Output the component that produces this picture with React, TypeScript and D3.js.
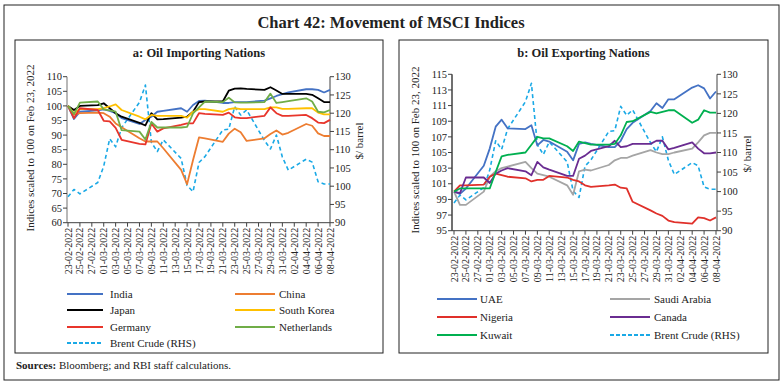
import React from 'react';
import * as d3 from 'd3';

// trading days shown in both panels
const DATES = [
  '23-02-2022', '24-02-2022', '25-02-2022', '28-02-2022', '01-03-2022', '02-03-2022',
  '03-03-2022', '04-03-2022', '07-03-2022', '08-03-2022', '09-03-2022', '10-03-2022',
  '11-03-2022', '14-03-2022', '15-03-2022', '16-03-2022', '17-03-2022', '18-03-2022',
  '21-03-2022', '22-03-2022', '23-03-2022', '24-03-2022', '25-03-2022', '28-03-2022',
  '29-03-2022', '30-03-2022', '31-03-2022', '01-04-2022', '04-04-2022', '05-04-2022',
  '06-04-2022', '07-04-2022', '08-04-2022',
];

// x tick labels (every second calendar day)
const X_TICKS = [
  '23-02-2022', '25-02-2022', '27-02-2022', '01-03-2022', '03-03-2022', '05-03-2022',
  '07-03-2022', '09-03-2022', '11-03-2022', '13-03-2022', '15-03-2022', '17-03-2022',
  '19-03-2022', '21-03-2022', '23-03-2022', '25-03-2022', '27-03-2022', '29-03-2022',
  '31-03-2022', '02-04-2022', '04-04-2022', '06-04-2022', '08-04-2022',
];

const TICKS_A_LEFT = [60, 65, 70, 75, 80, 85, 90, 95, 100, 105, 110];
const TICKS_B_LEFT = [95, 97, 99, 101, 103, 105, 107, 109, 111, 113, 115];
const TICKS_RIGHT = [90, 95, 100, 105, 110, 115, 120, 125, 130];

// panel a: oil importing nations
const INDIA = [100, 95.5, 98, 98.5, 98.8, 98.3, 97.5, 95.8, 93.8, 95.2, 96.3, 98, 98.3, 99.2, 98, 100.3, 101.7, 101.8, 101, 101, 101.3, 101.3, 101.3, 101.8, 102.6, 103.4, 104, 104.6, 105.7, 105.7, 105.5, 104.6, 105.5];
const CHINA = [100, 97, 97.5, 97.7, 97.5, 96.3, 94, 92.7, 88.9, 87.8, 87.8, 87.8, 85.5, 78.1, 73.2, 81.5, 89.2, 88.9, 87.7, 90.5, 92.2, 91, 88, 88.9, 90.4, 91.6, 90.2, 90.8, 93.8, 93.2, 90.6, 89.7, 89.7];
const JAPAN = [100, 98.6, 100, 100.3, 100.9, 99.2, 97.5, 96.3, 94.2, 93.3, 97.5, 95.4, 95.5, 96, 96.3, 98, 101.3, 101.5, 101.5, 105.2, 105.9, 106, 105.8, 105.5, 106.4, 105.3, 104.1, 104.1, 104.1, 103.8, 102.6, 101.3, 101.3];
const KOREA = [100, 97.5, 98.9, 98.9, 99.2, 99.8, 100.5, 98.6, 96.3, 95.4, 96.9, 96.6, 96.6, 96.6, 96, 98, 98.9, 98.9, 98, 98.9, 99.2, 98.9, 98.9, 98.9, 99.5, 99.5, 99, 99, 99.2, 99.2, 97.7, 97.1, 97.1];
const GERMANY = [100, 95.8, 99.2, 98.6, 94.9, 94.7, 92.5, 88.4, 87, 86.8, 94, 91.2, 92.3, 93.5, 94, 94, 97.5, 97.3, 96.9, 97.7, 96.1, 95.8, 95.8, 96.6, 99.5, 97.5, 96.6, 96.6, 96.9, 95.8, 94.3, 94.1, 95.2];
const NETHERLANDS = [100, 97.2, 101.1, 101.5, 98.8, 98.5, 98, 91.7, 91.2, 88.5, 94.5, 92.6, 92.6, 92.6, 92.8, 97.4, 99.5, 101.5, 101.3, 102.8, 101.2, 101.1, 101.1, 101.3, 104.2, 101, 101.3, 101.6, 102.6, 101.5, 98, 97.8, 98.6];

// panel b: oil exporting nations
const UAE = [100, 99.7, 100.4, 103.3, 105.5, 108.3, 109.2, 108.1, 108, 108.5, 105.9, 106.6, 106.4, 105.1, 104, 106.1, 106.3, 106.1, 105.7, 105.7, 106.5, 108, 108.8, 110.3, 111.3, 110.7, 111.8, 111.8, 113.3, 113.6, 113.2, 111.9, 112.8];
const SAUDI = [100, 98.3, 98.3, 100, 101.9, 102.6, 103, 103.2, 103.8, 103, 102.3, 102.1, 101.9, 100.8, 99.6, 102.6, 102.8, 102.7, 103.4, 104, 104.3, 104.3, 104.6, 105.3, 105, 104.8, 104.8, 105, 105.5, 106.3, 107.2, 107.5, 107.5];
const NIGERIA = [100, 100.8, 100.8, 100.9, 101.9, 102.3, 102.1, 101.9, 101.7, 101.3, 101.5, 101.5, 102, 101.8, 101.5, 101.3, 100.8, 100.6, 100.8, 100.9, 100.5, 100.4, 98.7, 97.6, 97.2, 96.9, 96.3, 96.1, 95.9, 96.7, 96.6, 96.3, 96.7];
const CANADA = [100, 99.8, 101.8, 101.8, 101.1, 102.3, 102.7, 103, 102.6, 102.1, 103.8, 103.1, 102.8, 102, 102, 104.2, 104.6, 105.2, 105.8, 106.5, 105.7, 105.8, 106.1, 106.1, 106.5, 106.5, 105.4, 105.6, 106.3, 105.5, 104.9, 104.9, 105];
const KUWAIT = [100, 100.4, 100.4, 100.4, 100.4, 102.5, 104.5, 104.7, 105, 106, 107, 106.8, 106.8, 105.8, 105.2, 106.4, 106.2, 106, 106, 106.1, 107.2, 108.9, 109, 110.2, 110, 110.2, 110.4, 110.4, 108.8, 109.2, 110.4, 110.1, 110.1];

// brent crude, $/barrel (RHS)
const BRENT = [97.1, 99.1, 97.9, 101, 105.5, 113, 110.8, 116, 123, 127.7, 112, 109.5, 112.7, 107.6, 100.2, 98.5, 106.5, 108.1, 115.4, 115.6, 121.8, 119.5, 120.9, 112.5, 110.2, 114, 108, 104.4, 107.4, 106.6, 101.2, 100.6, 100.6];

const parse = d3.timeParse('%d-%m-%Y');
const FONT = '"Liberation Serif", "DejaVu Serif", serif';

type Series = { name: string; values: number[]; color: string; rhs?: boolean };

const seriesA: Series[] = [
  { name: 'India', values: INDIA, color: '#4472c4' },
  { name: 'China', values: CHINA, color: '#ed7d31' },
  { name: 'Japan', values: JAPAN, color: '#000000' },
  { name: 'South Korea', values: KOREA, color: '#ffc000' },
  { name: 'Germany', values: GERMANY, color: '#e8352b' },
  { name: 'Netherlands', values: NETHERLANDS, color: '#70ad47' },
  { name: 'Brent Crude (RHS)', values: BRENT, color: '#1aa9e6', rhs: true },
];

const seriesB: Series[] = [
  { name: 'UAE', values: UAE, color: '#4472c4' },
  { name: 'Saudi Arabia', values: SAUDI, color: '#a5a5a5' },
  { name: 'Nigeria', values: NIGERIA, color: '#e0302a' },
  { name: 'Canada', values: CANADA, color: '#6a2c91' },
  { name: 'Kuwait', values: KUWAIT, color: '#00b050' },
  { name: 'Brent Crude (RHS)', values: BRENT, color: '#1aa9e6', rhs: true },
];

type PanelProps = {
  box: [number, number, number, number];
  title: string;
  series: Series[];
  xRange: [number, number];
  axisLeftX: number;
  axisRightX: number;
  yRange: [number, number];
  leftDomain: [number, number];
  leftTicks: number[];
  leftAxisColor: string;
  yTitleX: number;
  yTitleY: number;
  rhsTitleX: number;
  rhsTitleY: number;
  legendRows: number[];
  legendCols: { x0: number; x1: number; tx: number }[];
};

function Panel(p: PanelProps) {
  const [bx0, by0, bx1, by1] = p.box;
  const x = d3.scaleTime()
    .domain([parse(DATES[0])!, parse(DATES[DATES.length - 1])!])
    .range(p.xRange);
  const yL = d3.scaleLinear().domain(p.leftDomain).range(p.yRange);
  const yR = d3.scaleLinear().domain([90, 130]).range(p.yRange);
  const [yBottom, yTop] = p.yRange;

  const makeLine = (s: Series) =>
    d3.line<number>()
      .x((_, i) => x(parse(DATES[i])!))
      .y((v) => (s.rhs ? yR(v) : yL(v)))(s.values) || '';

  // draw brent first so index lines sit on top, like the source
  const drawOrder = [...p.series.filter((s) => s.rhs), ...p.series.filter((s) => !s.rhs)];

  return (
    <g>
      <rect x={bx0} y={by0} width={bx1 - bx0} height={by1 - by0} fill="none" stroke="#222" strokeWidth={1} />
      <text x={(bx0 + bx1) / 2} y={by0 + 17} textAnchor="middle" fontSize={12.5} fontWeight="bold" fill="#222">
        {p.title}
      </text>

      {/* left axis */}
      <line x1={p.axisLeftX} x2={p.axisLeftX} y1={yTop} y2={yBottom} stroke={p.leftAxisColor} strokeWidth={1.5} />
      {p.leftTicks.map((t) => (
        <g key={'l' + t}>
          <line x1={p.axisLeftX - 4} x2={p.axisLeftX} y1={yL(t)} y2={yL(t)} stroke="#404040" />
          <text x={p.axisLeftX - 5} y={yL(t)} dy="0.35em" textAnchor="end" fontSize={10.5} fill="#222">{t}</text>
        </g>
      ))}

      {/* right axis */}
      <line x1={p.axisRightX} x2={p.axisRightX} y1={yTop} y2={yBottom} stroke="#404040" />
      {TICKS_RIGHT.map((t) => (
        <g key={'r' + t}>
          <line x1={p.axisRightX} x2={p.axisRightX + 4} y1={yR(t)} y2={yR(t)} stroke="#404040" />
          <text x={p.axisRightX + 5} y={yR(t)} dy="0.35em" textAnchor="start" fontSize={10.5} fill="#222">{t}</text>
        </g>
      ))}

      {/* bottom axis */}
      <line x1={p.axisLeftX} x2={p.axisRightX} y1={yBottom} y2={yBottom} stroke="#404040" />
      {X_TICKS.map((d) => {
        const tx = x(parse(d)!);
        return (
          <g key={d}>
            <line x1={tx} x2={tx} y1={yBottom} y2={yBottom + 4} stroke="#404040" />
            <text transform={`translate(${tx},${yBottom + 5}) rotate(-90)`} dy="0.35em" textAnchor="end" fontSize={10} fill="#222">
              {d}
            </text>
          </g>
        );
      })}

      <text transform={`translate(${p.yTitleX},${p.yTitleY}) rotate(-90)`} textAnchor="middle" fontSize={11} fill="#222">
        Indices scaled to 100 on Feb 23, 2022
      </text>
      <text transform={`translate(${p.rhsTitleX},${p.rhsTitleY}) rotate(-90)`} textAnchor="middle" fontSize={11} fill="#222">
        $/ barrel
      </text>

      {drawOrder.map((s) => (
        <path key={s.name} d={makeLine(s)} fill="none" stroke={s.color}
          strokeWidth={s.rhs ? 1.6 : 1.8} strokeDasharray={s.rhs ? '4,3' : undefined} strokeLinejoin="round" />
      ))}

      {p.series.map((s, i) => {
        const col = p.legendCols[i % 2];
        const ly = p.legendRows[Math.floor(i / 2)];
        return (
          <g key={'lg' + s.name}>
            <line x1={col.x0} x2={col.x1} y1={ly} y2={ly} stroke={s.color} strokeWidth={2}
              strokeDasharray={s.rhs ? '4,2' : undefined} />
            <text x={col.tx} y={ly} dy="0.35em" fontSize={11} fill="#222">{s.name}</text>
          </g>
        );
      })}
    </g>
  );
}

export default function App() {
  return (
    <svg width={784} height={387} style={{ position: 'absolute', left: 0, top: 0, fontFamily: FONT }}>
      <rect width={784} height={387} fill="#fff" />
      <rect x={4} y={5} width={775} height={375} fill="none" stroke="#222" strokeWidth={1} />
      <text x={391} y={28} textAnchor="middle" fontSize={16.5} fontWeight="bold" fill="#222">
        Chart 42: Movement of MSCI Indices
      </text>

      <Panel
        box={[15, 40, 383, 353]}
        title="a: Oil Importing Nations"
        series={seriesA}
        xRange={[68, 330]}
        axisLeftX={67}
        axisRightX={330}
        yRange={[222.7, 76.7]}
        leftDomain={[60, 110]}
        leftTicks={TICKS_A_LEFT}
        leftAxisColor="#a0a0a0"
        yTitleX={34}
        yTitleY={148}
        rhsTitleX={363}
        rhsTitleY={141}
        legendRows={[294, 310, 327, 343]}
        legendCols={[{ x0: 67, x1: 103, tx: 110 }, { x0: 235, x1: 275, tx: 279 }]}
      />
      <Panel
        box={[399, 40, 768, 353]}
        title="b: Oil Exporting Nations"
        series={seriesB}
        xRange={[454, 716]}
        axisLeftX={452}
        axisRightX={717}
        yRange={[230.7, 74.3]}
        leftDomain={[95, 115]}
        leftTicks={TICKS_B_LEFT}
        leftAxisColor="#404040"
        yTitleX={419}
        yTitleY={150}
        rhsTitleX={751}
        rhsTitleY={154}
        legendRows={[299, 317, 335]}
        legendCols={[{ x0: 437, x1: 477, tx: 480 }, { x0: 610, x1: 650, tx: 654 }]}
      />

      <text x={16} y={369} fontSize={11} fill="#222">
        <tspan fontWeight="bold">Sources:</tspan> Bloomberg; and RBI staff calculations.
      </text>
    </svg>
  );
}
